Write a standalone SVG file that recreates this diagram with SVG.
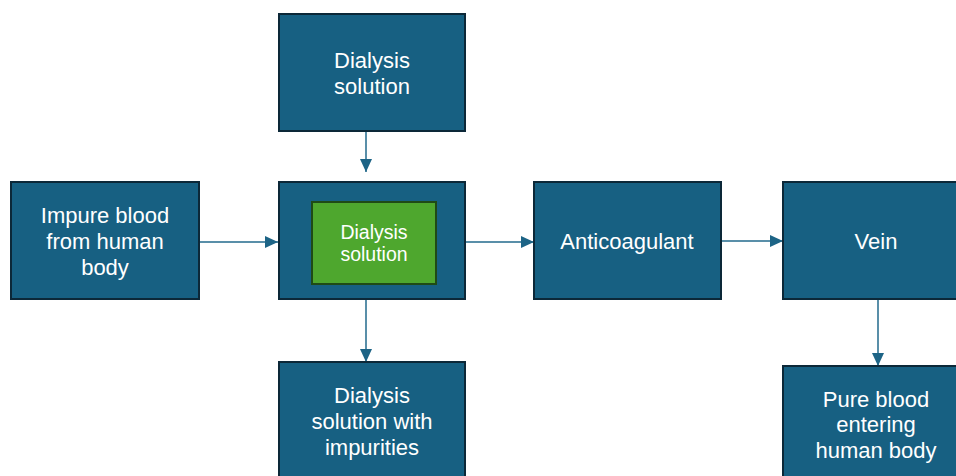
<svg xmlns="http://www.w3.org/2000/svg" width="956" height="476" viewBox="0 0 956 476">
<style>
.box{fill:#176082;stroke:#0c2838;stroke-width:2}
.inner{fill:#4ea72e;stroke:#1f4a16;stroke-width:2}
.t{font-family:"Liberation Sans",Arial,sans-serif;font-size:22px;fill:#ffffff;text-anchor:middle}
.ts{font-family:"Liberation Sans",Arial,sans-serif;font-size:19.5px;fill:#ffffff;text-anchor:middle}
.c{stroke:#226a8c;stroke-width:1.5;fill:none}
</style>
<defs>
<marker id="ah" markerUnits="userSpaceOnUse" markerWidth="14" markerHeight="14" viewBox="0 0 14 14" refX="13" refY="7" orient="auto">
<path d="M0,1 L13,7 L0,13 Z" fill="#1d6486"/>
</marker>
</defs>
<rect width="956" height="476" fill="#ffffff"/>
<g id="connectors">
<line class="c" x1="366" y1="131" x2="366" y2="172" marker-end="url(#ah)"/>
<line class="c" x1="199" y1="242" x2="278" y2="242" marker-end="url(#ah)"/>
<line class="c" x1="465" y1="242" x2="534" y2="242" marker-end="url(#ah)"/>
<line class="c" x1="721" y1="241" x2="783" y2="241" marker-end="url(#ah)"/>
<line class="c" x1="366" y1="299" x2="366" y2="362" marker-end="url(#ah)"/>
<line class="c" x1="878" y1="299" x2="878" y2="366" marker-end="url(#ah)"/>
</g>
<g id="dialysis-solution-top">
<rect class="box" x="279" y="14" width="186" height="117"/>
<text class="t" x="372" y="68">Dialysis</text>
<text class="t" x="372" y="94">solution</text>
</g>
<g id="impure-blood">
<rect class="box" x="11" y="182" width="188" height="117"/>
<text class="t" x="105" y="223">Impure blood</text>
<text class="t" x="105" y="249">from human</text>
<text class="t" x="105" y="275">body</text>
</g>
<g id="dialyzer">
<rect class="box" x="279" y="182" width="186" height="117"/>
</g>
<g id="dialysis-solution-inner">
<rect class="inner" x="312" y="202" width="124" height="82"/>
<text class="ts" x="374" y="239">Dialysis</text>
<text class="ts" x="374" y="261">solution</text>
</g>
<g id="anticoagulant">
<rect class="box" x="534" y="182" width="187" height="117"/>
<text class="t" x="627" y="249">Anticoagulant</text>
</g>
<g id="vein">
<rect class="box" x="783" y="182" width="187" height="117"/>
<text class="t" x="876" y="249">Vein</text>
</g>
<g id="dialysis-impurities">
<rect class="box" x="279" y="362" width="186" height="117"/>
<text class="t" x="372" y="403">Dialysis</text>
<text class="t" x="372" y="429">solution with</text>
<text class="t" x="372" y="455">impurities</text>
</g>
<g id="pure-blood">
<rect class="box" x="783" y="366" width="187" height="117"/>
<text class="t" x="876" y="407">Pure blood</text>
<text class="t" x="876" y="432">entering</text>
<text class="t" x="876" y="458">human body</text>
</g>
</svg>
